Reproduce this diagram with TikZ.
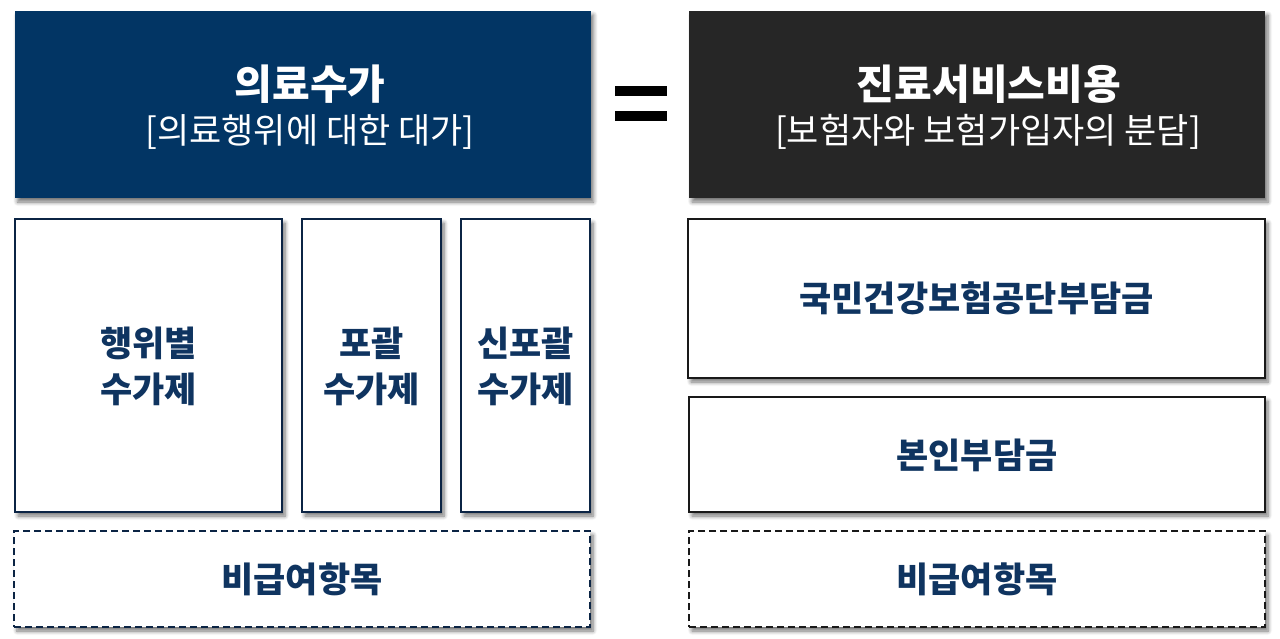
\documentclass[tikz,border=0pt]{standalone}
\usepackage{fontspec}
\setmainfont{Noto Sans CJK KR}
\usetikzlibrary{shadows.blur}
\definecolor{navy}{HTML}{023564}
\definecolor{navyline}{HTML}{0B2444}
\definecolor{navytext}{HTML}{0F3460}
\definecolor{darkbox}{HTML}{262626}
\tikzset{
  shd/.style={blur shadow={shadow xshift=3pt, shadow yshift=-4pt, shadow blur radius=4pt, shadow blur steps=6, shadow opacity=55}},
  headbox/.style={shd, draw=none, inner sep=0pt, minimum width=576pt, minimum height=187pt},
  plainbox/.style={shd, draw=navyline, line width=2.8pt, fill=white, inner sep=0pt},
  dashbox/.style={shd, draw=navyline, line width=2.6pt, dash pattern=on 7pt off 4pt, fill=white, inner sep=0pt, minimum height=96pt},
  blackbox/.style={shd, draw=black!90, line width=2.8pt, fill=white, inner sep=0pt},
  blackdash/.style={shd, draw=black!90, line width=2.6pt, dash pattern=on 7pt off 4pt, fill=white, inner sep=0pt, minimum height=96pt},
  lbl/.style={font=\fontsize{35}{46}\selectfont\bfseries, text=navytext, align=center},
  title/.style={font=\fontsize{41}{46}\selectfont\bfseries, text=white},
  subtitle/.style={font=\fontsize{35}{40}\selectfont, text=white},
}
\begin{document}
\begin{tikzpicture}[x=1pt,y=-1pt]
\useasboundingbox (0,0) rectangle (1280,638);
% header boxes
\node[headbox, fill=navy] (lhead) at (302.5,104.5) {};
\node[headbox, fill=darkbox] (rhead) at (977,104.5) {};
\node[title] (ltitle) at (310,84) {의료수가};
\node[subtitle] (lsub) at (310,132) {[의료행위에 대한 대가]};
\node[title] (rtitle) at (989,84) {진료서비스비용};
\node[subtitle] (rsub) at (988,132) {[보험자와 보험가입자의 분담]};
% equals sign
\fill[black] (615,86) rectangle (667,96);
\fill[black] (615,111) rectangle (667,121);
% left boxes
\node[plainbox, minimum width=267pt, minimum height=293pt] (b1) at (148.5,365.5) {};
\node[plainbox, minimum width=139pt, minimum height=293pt] (b2) at (371.5,365.5) {};
\node[plainbox, minimum width=129pt, minimum height=293pt] (b3) at (525.5,365.5) {};
\node[lbl] (t1) at (148.5,366) {행위별\\수가제};
\node[lbl] (t2) at (371.5,366) {포괄\\수가제};
\node[lbl] (t3) at (525.5,366) {신포괄\\수가제};
\node[dashbox, minimum width=576pt] (d1) at (302,579) {};
\node[lbl] (td1) at (302,579) {비급여항목};
% right boxes
\node[blackbox, minimum width=577pt, minimum height=159pt] (r1) at (976.5,298.5) {};
\node[lbl] (tr1) at (976.5,298.5) {국민건강보험공단부담금};
\node[blackbox, minimum width=576pt, minimum height=115pt] (r2) at (977,454.5) {};
\node[lbl] (tr2) at (977,455) {본인부담금};
\node[blackdash, minimum width=576pt] (d2) at (977,579) {};
\node[lbl] (td2) at (977,579) {비급여항목};
\end{tikzpicture}
\end{document}
